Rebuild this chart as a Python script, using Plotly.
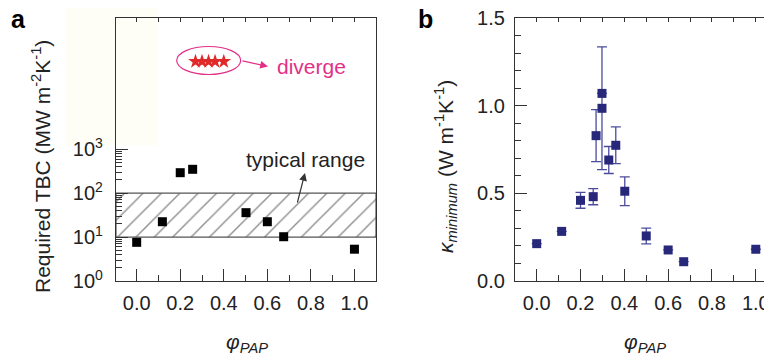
import plotly.graph_objects as go

# ---------------- data ----------------
# panel a: required TBC vs phi_PAP
phi_a = [0.0, 0.118, 0.2, 0.257, 0.502, 0.6, 0.675, 1.0]
tbc_a = [7.6, 22.4, 293, 350, 36, 22.4, 10.2, 5.3]
# diverging cases (drawn as stars)
phi_div = [0.27, 0.30, 0.33, 0.36, 0.40]
tbc_div = [1e5, 1e5, 1e5, 1e5, 1e5]
# typical range band
band_low = 10
band_high = 100

# panel b: kappa_minimum vs phi_PAP
phi_b = [0.0, 0.114, 0.2, 0.258, 0.271, 0.298, 0.298, 0.329, 0.361, 0.402, 0.5, 0.6, 0.671, 1.0]
kappa_b = [0.213, 0.283, 0.46, 0.481, 0.829, 1.07, 0.985, 0.69, 0.774, 0.512, 0.257, 0.177, 0.11, 0.181]
kappa_err = [0, 0, 0.045, 0.046, 0.148, 0, 0.35, 0.077, 0.105, 0.082, 0.045, 0, 0, 0]

x_ticks = [0.0, 0.2, 0.4, 0.6, 0.8, 1.0]
x_ticktext = ["0.0", "0.2", "0.4", "0.6", "0.8", "1.0"]
x_minor = [0.1, 0.3, 0.5, 0.7, 0.9]
x_top = [0.0, 0.1, 0.2, 0.3, 0.4, 0.5, 0.6, 0.7, 0.8, 0.9, 1.0]
ya_ticks = [1, 10, 100, 1000]
ya_ticktext = ["10<sup>0</sup>", "10<sup>1</sup>", "10<sup>2</sup>", "10<sup>3</sup>"]
ya_minor = [m * d for d in (1, 10, 100) for m in range(2, 10)]
yb_ticks = [0.0, 0.5, 1.0, 1.5]
yb_ticktext = ["0.0", "0.5", "1.0", "1.5"]
yb_minor = [0.1, 0.2, 0.3, 0.4, 0.6, 0.7, 0.8, 0.9, 1.1, 1.2, 1.3, 1.4]

W, H = 772, 360
OFF = 8  # page offset of the plot div
FONT = "Arial, 'Liberation Sans', sans-serif"
AX = "#333333"
NAVY = "#27287a"
MAG = "#e23088"

def px(x):
    return (x - OFF) / W

def py(y):
    return 1 - (y - OFF) / H

xa_range = [-0.095, 1.099]
xb_range = [-0.099, 1.074]

fig = go.Figure()

# hatched band
fig.add_trace(go.Scatter(
    x=[xa_range[0], xa_range[1], xa_range[1], xa_range[0], xa_range[0]],
    y=[band_low, band_low, band_high, band_high, band_low],
    fill="toself", mode="lines",
    line=dict(color="#555555", width=1.2),
    fillcolor="rgba(0,0,0,0)",
    fillpattern=dict(shape="/", fgcolor="#222222", bgcolor="rgba(255,255,255,0)", size=13, solidity=0.11),
    hoverinfo="skip", showlegend=False, xaxis="x", yaxis="y"))

fig.add_trace(go.Scatter(
    x=phi_a, y=tbc_a, mode="markers",
    marker=dict(symbol="square", size=9, color="black"),
    showlegend=False, xaxis="x", yaxis="y"))

fig.add_trace(go.Scatter(
    x=phi_div, y=tbc_div, mode="markers",
    marker=dict(symbol="star", size=11, color="#e02a2a", line=dict(width=0)),
    showlegend=False, xaxis="x", yaxis="y"))

fig.add_trace(go.Scatter(
    x=phi_b, y=kappa_b, mode="markers",
    marker=dict(symbol="square", size=9, color=NAVY),
    error_y=dict(type="data", array=kappa_err, visible=True, color="#4b4c9c", thickness=1.3, width=5),
    showlegend=False, xaxis="x2", yaxis="y2"))

# dummy traces for top tick axes
fig.add_trace(go.Scatter(x=[0.5], y=[1], mode="markers", marker=dict(opacity=0),
                         showlegend=False, hoverinfo="skip", xaxis="x3", yaxis="y"))
fig.add_trace(go.Scatter(x=[0.5], y=[0.5], mode="markers", marker=dict(opacity=0),
                         showlegend=False, hoverinfo="skip", xaxis="x4", yaxis="y2"))

dom_y = [py(281), py(18)]
common_x = dict(tickvals=x_ticks, ticktext=x_ticktext, ticks="inside", ticklen=12, tickwidth=1.2,
                tickcolor=AX, showline=True, linecolor=AX, linewidth=1.3, showgrid=False,
                zeroline=False, tickfont=dict(size=20, color="#222222"), ticklabelstandoff=4,
                automargin=False, ticklabeloverflow="allow",
                minor=dict(tickvals=x_minor, ticks="inside", ticklen=6, tickcolor=AX, tickwidth=1.2, showgrid=False))

fig.update_layout(
    width=W, height=H, margin=dict(l=0, r=0, t=0, b=0, autoexpand=False),
    paper_bgcolor="white", plot_bgcolor="rgba(0,0,0,0)",
    font=dict(family=FONT, color="#222222"),
    xaxis=dict(domain=[px(116), px(376)], range=xa_range, anchor="y", mirror=True, **common_x),
    yaxis=dict(domain=dom_y, type="log", range=[0, 5.99], anchor="x", automargin=False,
               ticklabeloverflow="allow",
               tickvals=ya_ticks, ticktext=ya_ticktext, ticks="inside", ticklen=12, tickwidth=1.2,
               tickcolor=AX, showline=True, linecolor=AX, linewidth=1.3, mirror=True,
               showgrid=False, zeroline=False, tickfont=dict(size=20, color="#222222"), ticklabelstandoff=8,
               minor=dict(tickvals=ya_minor, ticks="inside", ticklen=6, tickcolor=AX, tickwidth=1, showgrid=False)),
    xaxis2=dict(domain=[px(515), px(772)], range=xb_range, anchor="y2", mirror=False, **common_x),
    yaxis2=dict(domain=dom_y, range=[0, 1.5], anchor="x2", automargin=False,
                ticklabeloverflow="allow",
                tickvals=yb_ticks, ticktext=yb_ticktext, ticks="inside", ticklen=12, tickwidth=1.2,
                tickcolor=AX, showline=True, linecolor=AX, linewidth=1.3, mirror=False,
                showgrid=False, zeroline=False, tickfont=dict(size=20, color="#222222"), ticklabelstandoff=5,
                minor=dict(tickvals=yb_minor, ticks="inside", ticklen=6, tickcolor=AX, tickwidth=1, showgrid=False)),
    xaxis3=dict(overlaying="x", side="top", anchor="y", range=xa_range, tickvals=x_top, automargin=False,
                ticks="inside", ticklen=4, tickcolor=AX, tickwidth=1, showticklabels=False,
                showline=False, showgrid=False, zeroline=False),
    xaxis4=dict(overlaying="x2", side="top", anchor="y2", range=xb_range, tickvals=x_top, automargin=False,
                ticks="inside", ticklen=4, tickcolor=AX, tickwidth=1, showticklabels=False,
                showline=True, linecolor=AX, linewidth=1.3, showgrid=False, zeroline=False),
)

shapes = [
    # faint tinted patch behind the upper-left area
    dict(type="rect", xref="paper", yref="paper", x0=px(65), x1=px(158), y0=py(145), y1=py(8),
         fillcolor="#fefef7", line=dict(width=0), layer="below"),
    # ellipse around diverging stars
    dict(type="circle", xref="paper", yref="paper", x0=px(176.7), x1=px(240.7), y0=py(74.5), y1=py(46.5),
         line=dict(color=MAG, width=1.2), layer="above"),
]
fig.update_layout(shapes=shapes)

ann = [
    dict(text="<b>a</b>", x=px(18), y=py(19), xref="paper", yref="paper", showarrow=False,
         font=dict(size=25, color="black"), xanchor="center", yanchor="middle"),
    dict(text="<b>b</b>", x=px(425), y=py(19), xref="paper", yref="paper", showarrow=False,
         font=dict(size=25, color="black"), xanchor="center", yanchor="middle"),
    dict(text="Required TBC (MW m<sup>-2</sup>K<sup>-1</sup>)", x=px(41), y=py(167), xref="paper", yref="paper",
         showarrow=False, textangle=-90, font=dict(size=21, color="#222222"), xanchor="center", yanchor="middle"),
    dict(text="<i>κ</i><sub><i>minimum</i></sub> (W m<sup>-1</sup>K<sup>-1</sup>)", x=px(445), y=py(167),
         xref="paper", yref="paper", showarrow=False, textangle=-90, font=dict(size=21, color="#222222"),
         xanchor="center", yanchor="middle"),
    dict(text="<i>φ</i><sub><i>PAP</i></sub>", x=px(247), y=py(343), xref="paper", yref="paper",
         showarrow=False, font=dict(size=21, color="#222222"), xanchor="center", yanchor="middle"),
    dict(text="<i>φ</i><sub><i>PAP</i></sub>", x=px(645), y=py(343), xref="paper", yref="paper",
         showarrow=False, font=dict(size=21, color="#222222"), xanchor="center", yanchor="middle"),
    dict(text="typical range", x=px(305), y=py(159), xref="paper", yref="paper",
         showarrow=False, font=dict(size=21, color="#222222"), xanchor="center", yanchor="middle"),
    dict(text="", x=px(305), y=py(173), xref="paper", yref="paper", showarrow=True,
         ax=-8, ay=31, arrowhead=2, arrowsize=1.3, arrowwidth=1.2, arrowcolor="#333333"),
    dict(text="", x=px(268), y=py(66.5), xref="paper", yref="paper", showarrow=True,
         ax=-27, ay=-6, arrowhead=2, arrowsize=1.3, arrowwidth=1.2, arrowcolor=MAG),
    dict(text="diverge", x=px(275), y=py(67), xref="paper", yref="paper",
         showarrow=False, font=dict(size=21, color=MAG), xanchor="left", yanchor="middle"),
]
fig.update_layout(annotations=ann)

fig.write_html("out.html")
